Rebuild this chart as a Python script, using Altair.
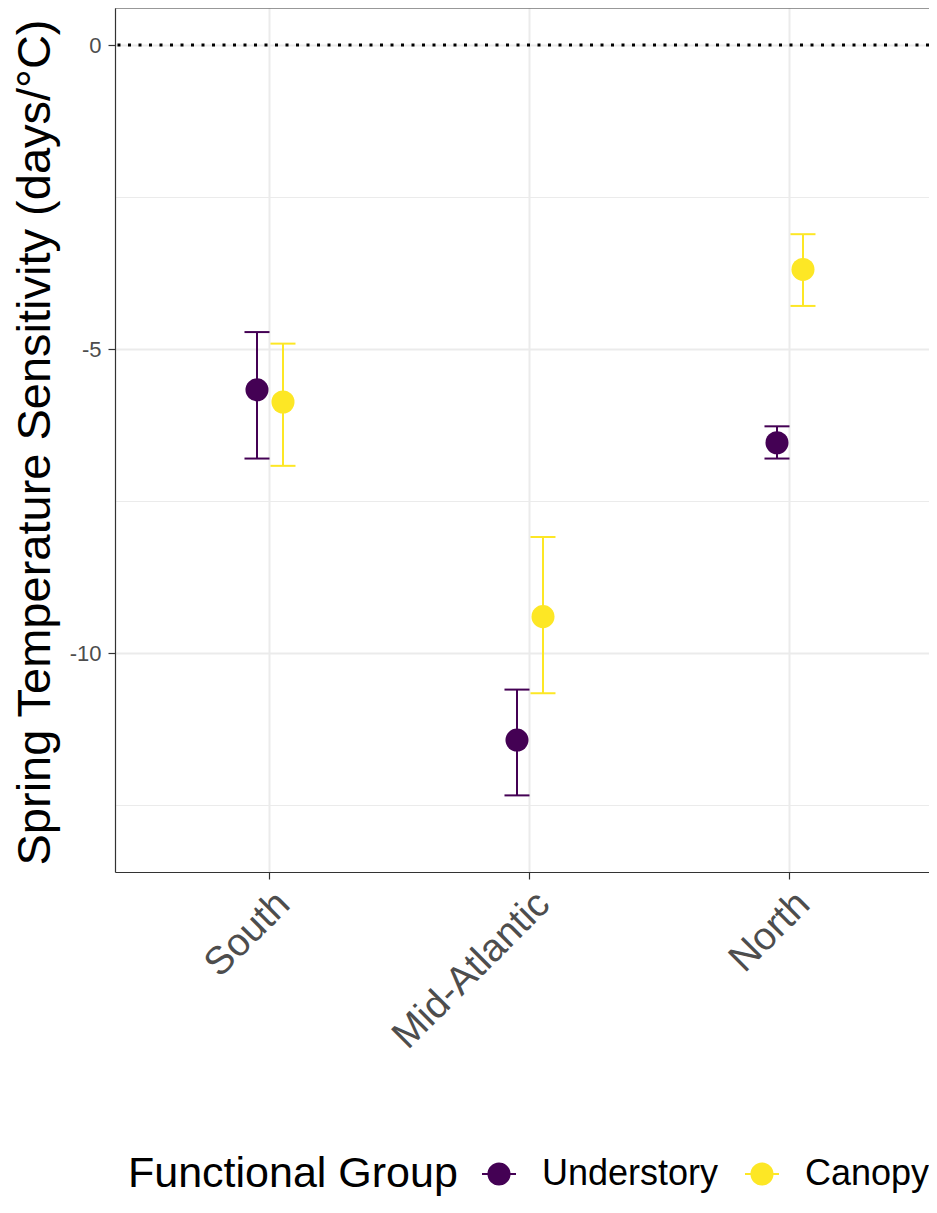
import altair as alt
import pandas as pd

regions = ["South", "Mid-Atlantic", "North"]
groups = ["Understory", "Canopy"]
understory_est = [-5.67, -11.43, -6.54]
understory_lo = [-6.80, -12.34, -6.80]
understory_hi = [-4.72, -10.60, -6.27]
canopy_est = [-5.87, -9.40, -3.69]
canopy_lo = [-6.92, -10.66, -4.29]
canopy_hi = [-4.91, -8.09, -3.11]
y_ticks = [-12.5, -10, -7.5, -5, -2.5, 0]
y_domain = [-13.6, 0.61]
colors = ["#440154", "#FDE725"]

rows = []
for g, est, lo, hi in [("Understory", understory_est, understory_lo, understory_hi),
                       ("Canopy", canopy_est, canopy_lo, canopy_hi)]:
    for r, e, l, h in zip(regions, est, lo, hi):
        rows.append({"region": r, "group": g, "est": e, "lo": l, "hi": h})
df = pd.DataFrame(rows)
zero_df = pd.DataFrame({"y": [0]})

FONT = "Liberation Sans"
major = "datum.value % 5 === 0"

x_enc = alt.X(
    "region:N", sort=regions,
    scale=alt.Scale(type="band", domain=regions, paddingInner=0.8, paddingOuter=0.4654, align=0.533),
    axis=alt.Axis(
        title=None, labelAngle=-45, labelAlign="right", labelBaseline="top",
        labelFontSize=39, labelFont=FONT, labelColor="#4D4D4D", labelPadding=5, labelLimit=500,
        tickSize=7, tickColor="#333333", tickWidth=1.2,
        domainColor="#333333", domainWidth=1.2,
        grid=True, gridColor="#EBEBEB", gridWidth=2, bandPosition=0.5,
    ),
)
xo_enc = alt.XOffset("group:N", sort=groups, scale=alt.Scale(domain=groups, paddingInner=0, paddingOuter=0))
y_scale = alt.Scale(domain=y_domain, nice=False, zero=False)
y_axis = alt.Axis(
    title="Spring Temperature Sensitivity (days/°C)",
    titleFontSize=47, titleFont=FONT, titleFontWeight="normal", titleColor="black",
    titleAngle=270, titleX=-66, titleY=434, titleBaseline="alphabetic", titleAlign="center",
    titleLimit=2000,
    values=y_ticks,
    labelExpr="datum.value % 5 === 0 ? '' + datum.value : ''",
    labelFontSize=22, labelFont=FONT, labelColor="#4D4D4D", labelPadding=7,
    tickSize=7, tickColor="#333333", tickWidth=1.2,
    tickOpacity={"condition": {"test": major, "value": 1}, "value": 0},
    domainColor="#333333", domainWidth=1.2,
    grid=True, gridColor="#EBEBEB",
    gridWidth={"condition": {"test": major, "value": 2}, "value": 1},
)

legend_symbol = ("M -1,-0.06 L 1,-0.06 L 1,0.06 L -1,0.06 Z "
                 "M 0.68,0 A 0.68,0.68 0 1 1 -0.68,0 A 0.68,0.68 0 1 1 0.68,0 Z")
color_scale = alt.Scale(domain=groups, range=colors)
legend = alt.Legend(
    orient="none", legendX=13, legendY=1148, direction="horizontal",
    title="Functional Group", titleOrient="left",
    titleFontSize=43, titleFont=FONT, titleFontWeight="normal", titleColor="black",
    titleBaseline="middle", titlePadding=23, titleLimit=1000,
    labelFontSize=36, labelFont=FONT, labelColor="black", labelOffset=25, labelLimit=1000,
    symbolType=legend_symbol, symbolSize=1156, symbolStrokeWidth=0, symbolOpacity=1,
    columnPadding=25,
)
color_enc = alt.Color("group:N", sort=groups, scale=color_scale, legend=legend)

base = alt.Chart(df)

zero_line = alt.Chart(zero_df).mark_rule(color="black", strokeWidth=3, strokeDash=[3, 7.5]).encode(
    y=alt.Y("y:Q", scale=y_scale, axis=y_axis)
)
top_border = alt.Chart(zero_df).mark_rule(color="#333333", strokeWidth=1.2).encode(y=alt.value(0))

bars = base.mark_rule(strokeWidth=2).encode(
    x=x_enc, xOffset=xo_enc,
    y=alt.Y("lo:Q", scale=y_scale, axis=y_axis), y2="hi:Q",
    color=color_enc,
)
caps_lo = base.mark_tick(size=25, thickness=2, opacity=1).encode(
    x=x_enc, xOffset=xo_enc, y=alt.Y("lo:Q", scale=y_scale),
    color=color_enc,
)
caps_hi = base.mark_tick(size=25, thickness=2, opacity=1).encode(
    x=x_enc, xOffset=xo_enc, y=alt.Y("hi:Q", scale=y_scale),
    color=color_enc,
)
points = base.mark_circle(size=531, opacity=1).encode(
    x=x_enc, xOffset=xo_enc, y=alt.Y("est:Q", scale=y_scale),
    color=color_enc,
)

chart = alt.layer(zero_line, bars, caps_lo, caps_hi, points, top_border).properties(
    width=814, height=864,
    padding={"left": 107, "top": 0, "right": 0, "bottom": 326},
    autosize=alt.AutoSizeParams(type="none"),
).configure_view(stroke="transparent")

chart.save("out.html", embed_options={"renderer": "svg", "actions": False})
